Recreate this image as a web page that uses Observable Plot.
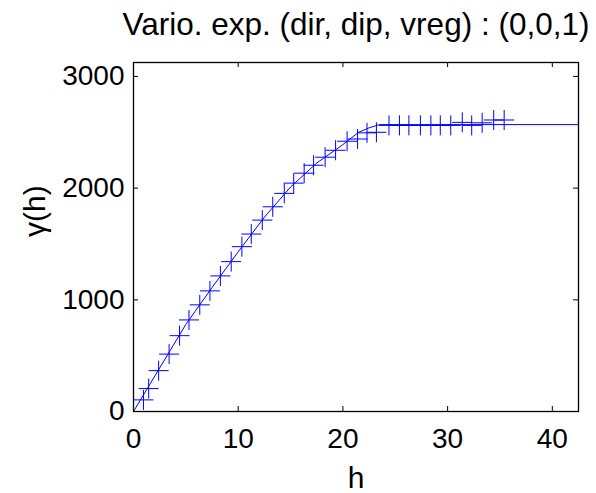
<!DOCTYPE html>
<html><head><meta charset="utf-8">
<script src="https://cdn.jsdelivr.net/npm/d3@7"></script>
<script src="https://cdn.jsdelivr.net/npm/@observablehq/plot@0.6"></script>
<style>body{margin:0;background:#fff} svg{display:block}</style>
</head><body><div id="chart"></div>
<script>
const title = "Vario. exp. (dir, dip, vreg) : (0,0,1)";
const xLabel = "h";
const yLabel = "γ(h)";
const xTicks = [0, 10, 20, 30, 40];
const yTicks = [0, 1000, 2000, 3000];

// experimental variogram (markers)
const expH = [0.95, 1.45, 2.4, 3.4, 4.4, 5.3, 6.33, 7.3, 8.3, 9.33, 10.35, 11.25, 12.3, 13.3, 14.4, 15.3, 16.3, 17.2, 18.3, 19.3, 20.4, 21.4, 22.3, 23.2, 24.4, 25.4, 26.3, 27.4, 28.4, 29.3, 30.3, 31.4, 32.3, 33.3, 34.4, 35.4];
const expGamma = [104, 205, 366, 514, 679, 820, 955, 1080, 1214, 1342, 1476, 1589, 1714, 1833, 1953, 2045, 2134, 2205, 2277, 2339, 2420, 2440, 2495, 2500, 2562, 2562, 2562, 2562, 2562, 2562, 2562, 2589, 2562, 2585, 2610, 2610];

// fitted model (line)
const modelH = [0, 2.5, 5, 7.5, 10, 12.5, 15, 17.5, 20, 21.5, 22.5, 23.5, 42.5];
const modelGamma = [0, 390, 780, 1110, 1430, 1740, 2010, 2225, 2390, 2500, 2540, 2569, 2569];

const expData = expH.map((h, i) => ({h, g: expGamma[i]}));
const modelData = modelH.map((h, i) => ({h, g: modelGamma[i]}));

const W = 596, H = 493, mL = 133, mR = 18, mT = 62, mB = 82;
const fw = W - mL - mR, fh = H - mT - mB;
const font = "'Liberation Sans', Arial, Helvetica, sans-serif";
const blue = "#0000ff";

// "+" marker drawn as two strokes (size = pi r^2)
const plusSymbol = {
  draw(context, size) {
    const r = Math.sqrt(size / Math.PI);
    context.moveTo(-r, 0); context.lineTo(r, 0);
    context.moveTo(0, -r); context.lineTo(0, r);
  }
};

const chart = Plot.plot({
  width: W, height: H,
  marginLeft: mL, marginRight: mR, marginTop: mT, marginBottom: mB,
  style: {fontFamily: font, background: "white", color: "black"},
  x: {domain: [0, 42.5]},
  y: {domain: [0, 3125]},
  marks: [
    Plot.line(modelData, {x: "h", y: "g", stroke: blue, strokeWidth: 1}),
    Plot.dot(expData, {x: "h", y: "g", symbol: plusSymbol, r: 10, fill: "none", stroke: blue, strokeWidth: 1}),
    Plot.frame({stroke: "black", strokeWidth: 1.3}),
    Plot.tickX(xTicks, {x: d => d, insetTop: fh - 5, stroke: "black"}),
    Plot.tickX(xTicks, {x: d => d, insetBottom: fh - 5, stroke: "black"}),
    Plot.tickY(yTicks, {y: d => d, insetRight: fw - 5, stroke: "black"}),
    Plot.tickY(yTicks, {y: d => d, insetLeft: fw - 5, stroke: "black"}),
    Plot.axisX({ticks: xTicks, tickSize: 0, tickPadding: 17, fontSize: 28, tickFormat: d3.format("d"), label: null}),
    Plot.axisY({ticks: yTicks, tickSize: 0, tickPadding: 9, fontSize: 28, tickFormat: d3.format("d"), label: null}),
    Plot.text([title], {frameAnchor: "top", dy: -38, fontSize: 31.5, lineAnchor: "middle", fill: "black"}),
    Plot.text([xLabel], {frameAnchor: "bottom", dy: 67, fontSize: 30, lineAnchor: "middle", fill: "black"}),
    Plot.text([yLabel], {frameAnchor: "left", dx: -98, rotate: -90, fontSize: 30, lineAnchor: "middle", fill: "black"})
  ]
});
document.getElementById("chart").append(chart);
</script>
</body></html>
